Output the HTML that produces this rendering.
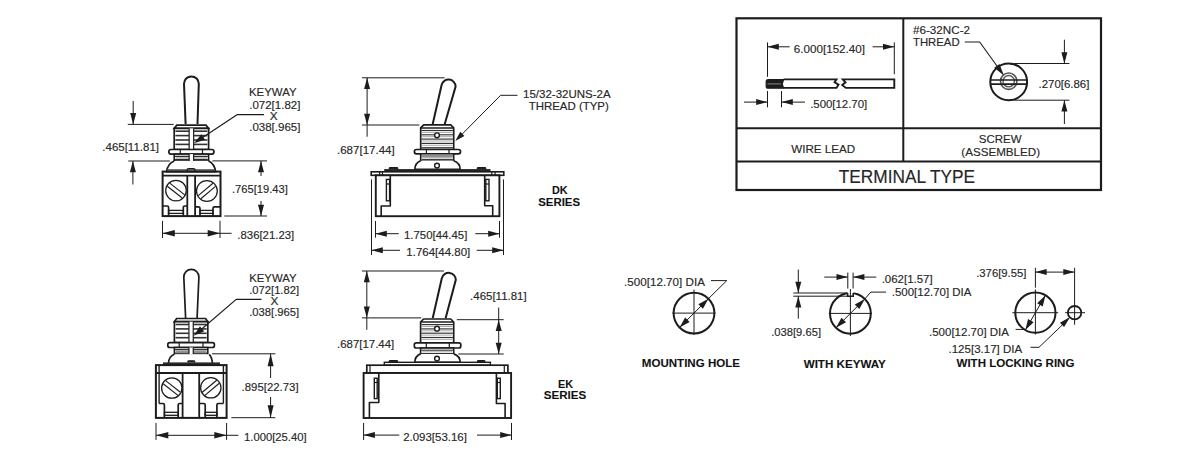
<!DOCTYPE html>
<html><head><meta charset="utf-8"><style>
html,body{margin:0;padding:0;background:#fff;width:1200px;height:463px;overflow:hidden}
svg{display:block}
text{font-family:"Liberation Sans",sans-serif;stroke:#2a2a2a;stroke-width:0.15px}
</style></head><body>
<svg width="1200" height="463" viewBox="0 0 1200 463">
<rect x="0" y="0" width="1200" height="463" fill="#fff"/>
<rect x="736.5" y="18.3" width="364.5" height="171.7" rx="0" fill="none" stroke="#1c1c1c" stroke-width="2.2"/>
<line x1="736.5" y1="128.2" x2="1101" y2="128.2" stroke="#1c1c1c" stroke-width="2"/>
<line x1="736.5" y1="161.5" x2="1101" y2="161.5" stroke="#1c1c1c" stroke-width="2"/>
<line x1="903.3" y1="18.3" x2="903.3" y2="161.5" stroke="#1c1c1c" stroke-width="2"/>
<line x1="767.5" y1="42.4" x2="767.5" y2="76.8" stroke="#1c1c1c" stroke-width="1.0"/>
<line x1="767.5" y1="91" x2="767.5" y2="107.3" stroke="#1c1c1c" stroke-width="1.0"/>
<line x1="894.3" y1="42.4" x2="894.3" y2="74.2" stroke="#1c1c1c" stroke-width="1.0"/>
<line x1="781.5" y1="91" x2="781.5" y2="107.3" stroke="#1c1c1c" stroke-width="1.0"/>
<line x1="767.5" y1="46.8" x2="789.7" y2="46.8" stroke="#1c1c1c" stroke-width="1.0"/>
<polygon points="767.50,46.80 778.80,43.80 778.80,49.80" fill="#1c1c1c"/>
<line x1="872.6" y1="46.8" x2="894.3" y2="46.8" stroke="#1c1c1c" stroke-width="1.0"/>
<polygon points="894.30,46.80 883.00,49.80 883.00,43.80" fill="#1c1c1c"/>
<text x="793.8" y="52.9" font-size="11.5" fill="#262626" textLength="71.2" lengthAdjust="spacingAndGlyphs">6.000[152.40]</text>
<path d="M783.6,79.6 L768.2,79.6 Q766.2,79.6 766.2,81.6 L766.2,86.2 Q766.2,88.2 768.2,88.2 L783.6,88.2 L782.2,84 Z" fill="#1c1c1c" stroke="#1c1c1c" stroke-width="1.2" />
<line x1="767.5" y1="83.9" x2="781" y2="83.9" stroke="#888" stroke-width="1.0"/>
<path d="M783.6,79.4 L836.5,79.4 L834.6,82.2 L838.5,84.6 L836.5,87.9 L783.6,87.9" fill="none" stroke="#1c1c1c" stroke-width="1.9" />
<path d="M845.8,79.4 L894.3,79.4 L894.3,87.9 L845.8,87.9 L842.2,85 L845.5,82.3 L842.8,79.4 Z" fill="none" stroke="#1c1c1c" stroke-width="1.9" />
<line x1="744" y1="102.1" x2="767.5" y2="102.1" stroke="#1c1c1c" stroke-width="1.0"/>
<polygon points="767.50,102.10 756.20,105.10 756.20,99.10" fill="#1c1c1c"/>
<line x1="781.5" y1="102.1" x2="805" y2="102.1" stroke="#1c1c1c" stroke-width="1.0"/>
<polygon points="781.50,102.10 792.80,99.10 792.80,105.10" fill="#1c1c1c"/>
<text x="810.2" y="107.7" font-size="11.5" fill="#262626" textLength="57" lengthAdjust="spacingAndGlyphs">.500[12.70]</text>
<text x="791.3" y="152.5" font-size="11.2" fill="#262626" textLength="63.9" lengthAdjust="spacingAndGlyphs">WIRE LEAD</text>
<text x="913" y="34.4" font-size="11.5" fill="#262626" textLength="57" lengthAdjust="spacingAndGlyphs">#6-32NC-2</text>
<text x="913" y="46.4" font-size="11.5" fill="#262626" textLength="46.6" lengthAdjust="spacingAndGlyphs">THREAD</text>
<polyline points="964.8,42 979.7,42 1002,73" fill="none" stroke="#1c1c1c" stroke-width="1.1" stroke-linejoin="round"/>
<circle cx="1008.7" cy="81.9" r="18.4" fill="none" stroke="#1c1c1c" stroke-width="2"/>
<circle cx="1008.7" cy="81.2" r="8.2" fill="none" stroke="#555" stroke-width="1.6"/>
<circle cx="1008.7" cy="81.2" r="5.7" fill="none" stroke="#555" stroke-width="1.4"/>
<line x1="990.6" y1="80.0" x2="1026.8" y2="80.0" stroke="#1c1c1c" stroke-width="1.7"/>
<line x1="990.6" y1="84.2" x2="1026.8" y2="84.2" stroke="#1c1c1c" stroke-width="1.7"/>
<polygon points="1003.90,75.50 994.28,67.65 999.47,63.90" fill="#1c1c1c"/>
<line x1="1014.3" y1="63.5" x2="1069.4" y2="63.5" stroke="#1c1c1c" stroke-width="1.0"/>
<line x1="1014.3" y1="100.2" x2="1069.4" y2="100.2" stroke="#1c1c1c" stroke-width="1.0"/>
<line x1="1064.4" y1="39.7" x2="1064.4" y2="63.5" stroke="#1c1c1c" stroke-width="1.0"/>
<polygon points="1064.40,63.50 1061.40,52.20 1067.40,52.20" fill="#1c1c1c"/>
<line x1="1064.4" y1="100.2" x2="1064.4" y2="124" stroke="#1c1c1c" stroke-width="1.0"/>
<polygon points="1064.40,100.20 1067.40,111.50 1061.40,111.50" fill="#1c1c1c"/>
<text x="1038.5" y="88.0" font-size="11.5" fill="#262626" textLength="50.8" lengthAdjust="spacingAndGlyphs">.270[6.86]</text>
<text x="978.8" y="143.4" font-size="11.2" fill="#262626" textLength="42.8" lengthAdjust="spacingAndGlyphs">SCREW</text>
<text x="961.3" y="155.7" font-size="11.2" fill="#262626" textLength="78.7" lengthAdjust="spacingAndGlyphs">(ASSEMBLED)</text>
<text x="838.7" y="182.7" font-size="17.9" fill="#262626" textLength="136.4" lengthAdjust="spacingAndGlyphs">TERMINAL TYPE</text>
<circle cx="694" cy="313.1" r="20.4" fill="none" stroke="#1c1c1c" stroke-width="2"/>
<line x1="694" y1="289.6" x2="694" y2="335" stroke="#1c1c1c" stroke-width="1.0"/>
<line x1="672.4" y1="313.1" x2="715.5" y2="313.1" stroke="#1c1c1c" stroke-width="1.0"/>
<line x1="708.42" y1="298.68" x2="679.58" y2="327.52" stroke="#1c1c1c" stroke-width="1.0"/>
<polygon points="708.42,298.68 702.91,308.72 698.38,304.19" fill="#1c1c1c"/>
<polygon points="679.58,327.52 685.09,317.48 689.62,322.01" fill="#1c1c1c"/>
<polyline points="708.4249783362055,298.67502166379444 726.8,280.6 711,280.6" fill="none" stroke="#1c1c1c" stroke-width="1.0" stroke-linejoin="round"/>
<text x="624.1" y="286.1" font-size="11.5" fill="#262626" textLength="80.8" lengthAdjust="spacingAndGlyphs">.500[12.70] DIA</text>
<text x="641.8" y="367.4" font-size="11.2" font-weight="bold" style="stroke-width:0.1px" fill="#111" textLength="98.2" lengthAdjust="spacingAndGlyphs">MOUNTING HOLE</text>
<circle cx="850.4" cy="313.4" r="20.4" fill="none" stroke="#1c1c1c" stroke-width="2"/>
<rect x="847.3" y="290" width="6.3" height="5" fill="#fff"/>
<path d="M847.6,293 L847.6,296.2 L853.2,296.2 L853.2,293" fill="none" stroke="#1c1c1c" stroke-width="1.6" />
<line x1="850.4" y1="289" x2="850.4" y2="336" stroke="#1c1c1c" stroke-width="1.0"/>
<line x1="828.9" y1="313.4" x2="872" y2="313.4" stroke="#1c1c1c" stroke-width="1.0"/>
<line x1="864.82" y1="298.98" x2="835.98" y2="327.82" stroke="#1c1c1c" stroke-width="1.0"/>
<polygon points="864.82,298.98 859.31,309.02 854.78,304.49" fill="#1c1c1c"/>
<polygon points="835.98,327.82 841.49,317.78 846.02,322.31" fill="#1c1c1c"/>
<polyline points="864.8249783362055,298.9750216637944 870.8,292.1 886,292.1" fill="none" stroke="#1c1c1c" stroke-width="1.0" stroke-linejoin="round"/>
<text x="891.8" y="296.4" font-size="11.5" fill="#262626" textLength="79.6" lengthAdjust="spacingAndGlyphs">.500[12.70] DIA</text>
<line x1="793.3" y1="293" x2="847.6" y2="293" stroke="#1c1c1c" stroke-width="1.0"/>
<line x1="793.3" y1="296.2" x2="847.6" y2="296.2" stroke="#1c1c1c" stroke-width="1.0"/>
<line x1="798.3" y1="269.5" x2="798.3" y2="293" stroke="#1c1c1c" stroke-width="1.0"/>
<polygon points="798.30,293.00 795.30,281.70 801.30,281.70" fill="#1c1c1c"/>
<line x1="798.3" y1="296.2" x2="798.3" y2="318.7" stroke="#1c1c1c" stroke-width="1.0"/>
<polygon points="798.30,296.20 801.30,307.50 795.30,307.50" fill="#1c1c1c"/>
<text x="771.2" y="335.7" font-size="11.5" fill="#262626" textLength="49.8" lengthAdjust="spacingAndGlyphs">.038[9.65]</text>
<line x1="847.8" y1="272.6" x2="847.8" y2="288.5" stroke="#1c1c1c" stroke-width="1.0"/>
<line x1="853.1" y1="272.6" x2="853.1" y2="288.5" stroke="#1c1c1c" stroke-width="1.0"/>
<line x1="824.3" y1="277.1" x2="847.8" y2="277.1" stroke="#1c1c1c" stroke-width="1.0"/>
<polygon points="847.80,277.10 836.50,280.10 836.50,274.10" fill="#1c1c1c"/>
<line x1="853.1" y1="277.1" x2="876.3" y2="277.1" stroke="#1c1c1c" stroke-width="1.0"/>
<polygon points="853.10,277.10 864.40,274.10 864.40,280.10" fill="#1c1c1c"/>
<text x="881.7" y="282.7" font-size="11.5" fill="#262626" textLength="50.9" lengthAdjust="spacingAndGlyphs">.062[1.57]</text>
<text x="803.7" y="367.5" font-size="11.2" font-weight="bold" style="stroke-width:0.1px" fill="#111" textLength="82.1" lengthAdjust="spacingAndGlyphs">WITH KEYWAY</text>
<circle cx="1035.4" cy="312.7" r="20.1" fill="none" stroke="#1c1c1c" stroke-width="2"/>
<line x1="1035.4" y1="289.4" x2="1035.4" y2="334.4" stroke="#1c1c1c" stroke-width="1.0"/>
<line x1="1012.4" y1="312.7" x2="1058.2" y2="312.7" stroke="#1c1c1c" stroke-width="1.0"/>
<line x1="1045.45" y1="295.29" x2="1025.35" y2="330.11" stroke="#1c1c1c" stroke-width="1.0"/>
<polygon points="1045.45,295.29 1042.72,306.42 1037.18,303.22" fill="#1c1c1c"/>
<polygon points="1025.35,330.11 1028.08,318.98 1033.62,322.18" fill="#1c1c1c"/>
<line x1="1035.4" y1="267.8" x2="1035.4" y2="287.7" stroke="#1c1c1c" stroke-width="1.0"/>
<circle cx="1074.6" cy="312.7" r="6.7" fill="none" stroke="#1c1c1c" stroke-width="1.8"/>
<line x1="1074.6" y1="267.8" x2="1074.6" y2="324.8" stroke="#1c1c1c" stroke-width="1.0"/>
<line x1="1065.1" y1="312.7" x2="1085" y2="312.7" stroke="#1c1c1c" stroke-width="1.0"/>
<line x1="1035.4" y1="272.1" x2="1074.6" y2="272.1" stroke="#1c1c1c" stroke-width="1.0"/>
<polygon points="1035.40,272.10 1046.70,269.10 1046.70,275.10" fill="#1c1c1c"/>
<polygon points="1074.60,272.10 1063.30,275.10 1063.30,269.10" fill="#1c1c1c"/>
<text x="976.2" y="276.9" font-size="11.5" fill="#262626" textLength="50.2" lengthAdjust="spacingAndGlyphs">.376[9.55]</text>
<polyline points="1015.6,329.4 1025.3500000000001,329.4" fill="none" stroke="#1c1c1c" stroke-width="1.0" stroke-linejoin="round"/>
<text x="929" y="335.7" font-size="11.5" fill="#262626" textLength="80" lengthAdjust="spacingAndGlyphs">.500[12.70] DIA</text>
<polyline points="1030.5,347.3 1039,347.3 1068.5,319" fill="none" stroke="#1c1c1c" stroke-width="1.0" stroke-linejoin="round"/>
<polygon points="1070.10,317.10 1064.08,327.12 1059.90,322.82" fill="#1c1c1c"/>
<text x="948.5" y="352.7" font-size="11.5" fill="#262626" textLength="73.7" lengthAdjust="spacingAndGlyphs">.125[3.17] DIA</text>
<text x="956.5" y="367.4" font-size="11.2" font-weight="bold" style="stroke-width:0.1px" fill="#111" textLength="117.9" lengthAdjust="spacingAndGlyphs">WITH LOCKING RING</text>
<path d="M185.6,124 L184,83.8 A7.4,7.4 0 0 1 198.8,83.8 L197.5,124" fill="#fff" stroke="#1c1c1c" stroke-width="2" />
<path d="M174.20000000000002,128.4 L176.8,125.2 L206.0,125.2 L208.6,128.4 Z" fill="#fff" stroke="#1c1c1c" stroke-width="1.7" />
<rect x="174.20000000000002" y="128.4" width="34.4" height="21.099999999999998" rx="0" fill="#fff" stroke="#1c1c1c" stroke-width="1.7"/>
<rect x="175.4" y="130.4" width="32.0" height="1.6" fill="#333"/>
<rect x="175.4" y="134.8" width="32.0" height="1.6" fill="#333"/>
<rect x="175.4" y="139.20000000000002" width="32.0" height="1.6" fill="#333"/>
<rect x="175.4" y="143.60000000000002" width="32.0" height="1.6" fill="#333"/>
<rect x="189.15" y="128.4" width="4.5" height="21.099999999999998" fill="#fff"/>
<line x1="189.15" y1="128.4" x2="189.15" y2="149.5" stroke="#1c1c1c" stroke-width="1.2"/>
<line x1="193.65" y1="128.4" x2="193.65" y2="149.5" stroke="#1c1c1c" stroke-width="1.2"/>
<rect x="168.9" y="149.5" width="45" height="4.6" rx="2" fill="#fff" stroke="#1c1c1c" stroke-width="1.7"/>
<line x1="180.3" y1="149.5" x2="180.3" y2="154.1" stroke="#1c1c1c" stroke-width="1.2"/>
<line x1="202.5" y1="149.5" x2="202.5" y2="154.1" stroke="#1c1c1c" stroke-width="1.2"/>
<rect x="174.20000000000002" y="154.1" width="34.4" height="6.900000000000006" rx="0" fill="#fff" stroke="#1c1c1c" stroke-width="1.6"/>
<line x1="175.00000000000003" y1="156.29999999999998" x2="207.79999999999998" y2="156.29999999999998" stroke="#2a2a2a" stroke-width="1.3"/>
<line x1="175.70000000000002" y1="157.99999999999997" x2="207.1" y2="157.99999999999997" stroke="#888" stroke-width="1.0"/>
<line x1="175.00000000000003" y1="159.7" x2="207.79999999999998" y2="159.7" stroke="#2a2a2a" stroke-width="1.3"/>
<line x1="175.70000000000002" y1="161.39999999999998" x2="207.1" y2="161.39999999999998" stroke="#888" stroke-width="1.0"/>
<rect x="189.15" y="154.1" width="4.5" height="6.900000000000006" fill="#fff"/>
<line x1="189.15" y1="154.1" x2="189.15" y2="161" stroke="#1c1c1c" stroke-width="1.2"/>
<line x1="193.65" y1="154.1" x2="193.65" y2="161" stroke="#1c1c1c" stroke-width="1.2"/>
<path d="M174.2,161 C169,163 167.2,167 166.6,171.6 L215.6,171.6 C215,167 213,163 208.6,161" fill="#fff" stroke="#1c1c1c" stroke-width="1.7" />
<rect x="167" y="169.2" width="48" height="1.6" fill="#555"/>
<path d="M187.2,171.5 L187.2,169.5 Q187.2,168.6 188.4,168.6 L193.8,168.6 Q195,168.6 195,169.5 L195,171.5" fill="none" stroke="#1c1c1c" stroke-width="1.2" />
<rect x="162.6" y="171.6" width="57.9" height="44.5" rx="0" fill="none" stroke="#1c1c1c" stroke-width="2"/>
<line x1="162.6" y1="175.6" x2="220.5" y2="175.6" stroke="#1c1c1c" stroke-width="1.8"/>
<line x1="187.3" y1="175.6" x2="187.3" y2="216" stroke="#1c1c1c" stroke-width="1.8"/>
<line x1="195.1" y1="175.6" x2="195.1" y2="216" stroke="#1c1c1c" stroke-width="1.8"/>
<circle cx="176" cy="190.6" r="10.3" fill="none" stroke="#1c1c1c" stroke-width="1.25"/>
<line x1="169.74" y1="183.17" x2="184.72" y2="194.88" stroke="#1c1c1c" stroke-width="1.15"/>
<line x1="167.28" y1="186.32" x2="182.26" y2="198.03" stroke="#1c1c1c" stroke-width="1.15"/>
<circle cx="206.9" cy="191" r="10.4" fill="none" stroke="#1c1c1c" stroke-width="1.25"/>
<line x1="198.26" y1="195.64" x2="212.97" y2="183.29" stroke="#1c1c1c" stroke-width="1.15"/>
<line x1="200.83" y1="198.71" x2="215.54" y2="186.36" stroke="#1c1c1c" stroke-width="1.15"/>
<path d="M162.6,206 L167.1,206 Q168.6,206 168.6,207.5 L168.6,216" fill="none" stroke="#1c1c1c" stroke-width="1.7" />
<path d="M187.3,206 L184.8,206 Q183.3,206 183.3,207.5 L183.3,216" fill="none" stroke="#1c1c1c" stroke-width="1.7" />
<rect x="168.6" y="210.4" width="14.700000000000017" height="3" rx="0" fill="none" stroke="#1c1c1c" stroke-width="1.3"/>
<path d="M195.1,206.9 L198.5,206.9 Q200,206.9 200,208.4 L200,216" fill="none" stroke="#1c1c1c" stroke-width="1.7" />
<path d="M220.5,206.9 L214.5,206.9 Q213,206.9 213,208.4 L213,216" fill="none" stroke="#1c1c1c" stroke-width="1.7" />
<rect x="200" y="210.4" width="13" height="3" rx="0" fill="none" stroke="#1c1c1c" stroke-width="1.3"/>
<line x1="127.8" y1="124.4" x2="173.6" y2="124.4" stroke="#1c1c1c" stroke-width="1.0"/>
<line x1="133.2" y1="101" x2="133.2" y2="124.4" stroke="#1c1c1c" stroke-width="1.0"/>
<polygon points="133.20,124.40 130.20,113.10 136.20,113.10" fill="#1c1c1c"/>
<line x1="128.3" y1="161" x2="169.9" y2="161" stroke="#1c1c1c" stroke-width="1.0"/>
<line x1="132.9" y1="161" x2="132.9" y2="184.5" stroke="#1c1c1c" stroke-width="1.0"/>
<polygon points="132.90,161.00 135.90,172.30 129.90,172.30" fill="#1c1c1c"/>
<text x="102.3" y="150.7" font-size="11.5" fill="#262626" textLength="56.7" lengthAdjust="spacingAndGlyphs">.465[11.81]</text>
<line x1="212.4" y1="160.9" x2="267" y2="160.9" stroke="#1c1c1c" stroke-width="1.0"/>
<line x1="224.3" y1="216" x2="267" y2="216" stroke="#1c1c1c" stroke-width="1.0"/>
<line x1="261" y1="160.9" x2="261" y2="176" stroke="#1c1c1c" stroke-width="1.0"/>
<polygon points="261.00,160.90 264.00,172.20 258.00,172.20" fill="#1c1c1c"/>
<line x1="261" y1="201" x2="261" y2="216" stroke="#1c1c1c" stroke-width="1.0"/>
<polygon points="261.00,216.00 258.00,204.70 264.00,204.70" fill="#1c1c1c"/>
<text x="232" y="193.0" font-size="11.5" fill="#262626" textLength="55.8" lengthAdjust="spacingAndGlyphs">.765[19.43]</text>
<line x1="162.5" y1="220.8" x2="162.5" y2="238" stroke="#1c1c1c" stroke-width="1.0"/>
<line x1="220" y1="220.8" x2="220" y2="238" stroke="#1c1c1c" stroke-width="1.0"/>
<line x1="162.5" y1="233.3" x2="231.6" y2="233.3" stroke="#1c1c1c" stroke-width="1.0"/>
<polygon points="162.50,233.30 174.80,230.10 174.80,236.50" fill="#1c1c1c"/>
<polygon points="220.00,233.30 207.70,236.50 207.70,230.10" fill="#1c1c1c"/>
<text x="237.3" y="238.5" font-size="11.5" fill="#262626" textLength="57" lengthAdjust="spacingAndGlyphs">.836[21.23]</text>
<text x="249" y="96.2" font-size="11.8" fill="#262626" textLength="47.5" lengthAdjust="spacingAndGlyphs">KEYWAY</text>
<text x="249.2" y="108.5" font-size="11.8" fill="#262626" textLength="51.2" lengthAdjust="spacingAndGlyphs">.072[1.82]</text>
<text x="273.8" y="120.2" font-size="11.8" fill="#262626" text-anchor="middle">X</text>
<text x="249.2" y="131.2" font-size="11.8" fill="#262626" textLength="51.2" lengthAdjust="spacingAndGlyphs">.038[.965]</text>
<polyline points="264,114.7 237,114.7 197,141.2" fill="none" stroke="#1c1c1c" stroke-width="1.2" stroke-linejoin="round"/>
<polygon points="194.00,143.20 201.35,134.37 204.99,139.87" fill="#1c1c1c"/>
<path d="M432.6,124.5 L441.6,85 A7.1,7.1 0 0 1 455.6,86.5 L444.6,124.5" fill="#fff" stroke="#1c1c1c" stroke-width="2" />
<path d="M420.7,149.5 L420.7,127.9 L423.7,124.9 L450.7,124.9 L453.7,127.9 L453.7,149.5 Z" fill="#fff" stroke="#1c1c1c" stroke-width="1.7" stroke-linejoin="round"/>
<line x1="420.7" y1="127.9" x2="453.7" y2="127.9" stroke="#1c1c1c" stroke-width="1.5"/>
<line x1="421.5" y1="130.5" x2="452.9" y2="130.5" stroke="#333" stroke-width="1.15"/>
<line x1="422.2" y1="132.4" x2="452.2" y2="132.4" stroke="#aaa" stroke-width="1.0"/>
<line x1="421.5" y1="134.8" x2="452.9" y2="134.8" stroke="#333" stroke-width="1.15"/>
<line x1="422.2" y1="136.70000000000002" x2="452.2" y2="136.70000000000002" stroke="#aaa" stroke-width="1.0"/>
<line x1="421.5" y1="139.10000000000002" x2="452.9" y2="139.10000000000002" stroke="#333" stroke-width="1.15"/>
<line x1="422.2" y1="141.00000000000003" x2="452.2" y2="141.00000000000003" stroke="#aaa" stroke-width="1.0"/>
<line x1="421.5" y1="143.40000000000003" x2="452.9" y2="143.40000000000003" stroke="#333" stroke-width="1.15"/>
<line x1="422.2" y1="145.30000000000004" x2="452.2" y2="145.30000000000004" stroke="#aaa" stroke-width="1.0"/>
<line x1="421.5" y1="147.70000000000005" x2="452.9" y2="147.70000000000005" stroke="#333" stroke-width="1.15"/>
<line x1="422.2" y1="149.60000000000005" x2="452.2" y2="149.60000000000005" stroke="#aaa" stroke-width="1.0"/>
<circle cx="437" cy="135.3" r="2.4" fill="#fff" stroke="#1c1c1c" stroke-width="1.4"/>
<rect x="414.4" y="149.5" width="46.10000000000002" height="4.3" rx="2" fill="#fff" stroke="#1c1c1c" stroke-width="1.7"/>
<line x1="426.4" y1="149.5" x2="426.4" y2="153.8" stroke="#1c1c1c" stroke-width="1.2"/>
<line x1="449.0" y1="149.5" x2="449.0" y2="153.8" stroke="#1c1c1c" stroke-width="1.2"/>
<rect x="420.7" y="153.8" width="33.0" height="7.0" rx="0" fill="#fff" stroke="#1c1c1c" stroke-width="1.6"/>
<line x1="421.5" y1="156.0" x2="452.9" y2="156.0" stroke="#333" stroke-width="1.1"/>
<line x1="422.2" y1="157.6" x2="452.2" y2="157.6" stroke="#aaa" stroke-width="1.0"/>
<line x1="421.5" y1="159.4" x2="452.9" y2="159.4" stroke="#333" stroke-width="1.1"/>
<line x1="422.2" y1="161.0" x2="452.2" y2="161.0" stroke="#aaa" stroke-width="1.0"/>
<path d="M420.7,160.8 C416.9,162.3 414.9,164.3 414.9,169.3 L460.1,169.3 C460.1,164.3 458.1,162.3 453.7,160.8" fill="#fff" stroke="#1c1c1c" stroke-width="1.7" />
<circle cx="437" cy="165.6" r="2.4" fill="#fff" stroke="#1c1c1c" stroke-width="1.4"/>
<rect x="384.2" y="169.1" width="106.3" height="3.0" fill="#222"/>
<path d="M389.3,169.3 L389.3,168.2 Q389.3,167.5 390.3,167.5 L396.7,167.5 Q397.7,167.5 397.7,168.2 L397.7,169.3" fill="#222" stroke="#1c1c1c" stroke-width="1.2" />
<path d="M477.3,169.3 L477.3,168.2 Q477.3,167.5 478.3,167.5 L484.7,167.5 Q485.7,167.5 485.7,168.2 L485.7,169.3" fill="#222" stroke="#1c1c1c" stroke-width="1.2" />
<rect x="371.2" y="171.8" width="132.6" height="3.5" rx="0" fill="#fff" stroke="#1c1c1c" stroke-width="1.6"/>
<line x1="379.6" y1="171.8" x2="379.6" y2="175.3" stroke="#1c1c1c" stroke-width="1.2"/>
<line x1="382.5" y1="171.8" x2="382.5" y2="175.3" stroke="#1c1c1c" stroke-width="1.2"/>
<line x1="491.8" y1="171.8" x2="491.8" y2="175.3" stroke="#1c1c1c" stroke-width="1.2"/>
<line x1="495.1" y1="171.8" x2="495.1" y2="175.3" stroke="#1c1c1c" stroke-width="1.2"/>
<rect x="375.8" y="175.3" width="123.6" height="40.9" rx="0" fill="#fff" stroke="#1c1c1c" stroke-width="1.9"/>
<polyline points="390.3,175.3 390.3,206 381.2,206 381.2,216.2" fill="none" stroke="#1c1c1c" stroke-width="1.6" stroke-linejoin="round"/>
<polyline points="484.7,175.3 484.7,205.8 492.7,205.8 492.7,216.2" fill="none" stroke="#1c1c1c" stroke-width="1.6" stroke-linejoin="round"/>
<rect x="386.4" y="179.4" width="3.2" height="21.4" rx="0" fill="none" stroke="#1c1c1c" stroke-width="1.4"/>
<line x1="386.4" y1="184" x2="389.6" y2="184" stroke="#1c1c1c" stroke-width="1.2"/>
<rect x="485.8" y="179.4" width="3.2" height="21.4" rx="0" fill="none" stroke="#1c1c1c" stroke-width="1.4"/>
<line x1="485.8" y1="184" x2="489" y2="184" stroke="#1c1c1c" stroke-width="1.2"/>
<line x1="362" y1="77.8" x2="444.6" y2="77.8" stroke="#1c1c1c" stroke-width="1.0"/>
<line x1="362" y1="125" x2="419.4" y2="125" stroke="#1c1c1c" stroke-width="1.0"/>
<line x1="367.1" y1="77.8" x2="367.1" y2="136.7" stroke="#1c1c1c" stroke-width="1.0"/>
<polygon points="367.10,77.80 370.10,89.10 364.10,89.10" fill="#1c1c1c"/>
<polygon points="367.10,125.00 364.10,113.70 370.10,113.70" fill="#1c1c1c"/>
<text x="337" y="153.7" font-size="11.5" fill="#262626" textLength="57.7" lengthAdjust="spacingAndGlyphs">.687[17.44]</text>
<line x1="375.5" y1="221" x2="375.5" y2="237.7" stroke="#1c1c1c" stroke-width="1.0"/>
<line x1="499.5" y1="221" x2="499.5" y2="237.7" stroke="#1c1c1c" stroke-width="1.0"/>
<line x1="375.5" y1="233.7" x2="398.7" y2="233.7" stroke="#1c1c1c" stroke-width="1.0"/>
<polygon points="375.50,233.70 386.80,230.70 386.80,236.70" fill="#1c1c1c"/>
<line x1="475.3" y1="233.7" x2="499.5" y2="233.7" stroke="#1c1c1c" stroke-width="1.0"/>
<polygon points="499.50,233.70 488.20,236.70 488.20,230.70" fill="#1c1c1c"/>
<text x="404" y="238.7" font-size="11.5" fill="#262626" textLength="63.3" lengthAdjust="spacingAndGlyphs">1.750[44.45]</text>
<line x1="371.5" y1="179.4" x2="371.5" y2="255" stroke="#1c1c1c" stroke-width="1.0"/>
<line x1="503.5" y1="179.4" x2="503.5" y2="255" stroke="#1c1c1c" stroke-width="1.0"/>
<line x1="371.5" y1="250.3" x2="400" y2="250.3" stroke="#1c1c1c" stroke-width="1.0"/>
<polygon points="371.50,250.30 382.80,247.30 382.80,253.30" fill="#1c1c1c"/>
<line x1="476.7" y1="250.3" x2="503.5" y2="250.3" stroke="#1c1c1c" stroke-width="1.0"/>
<polygon points="503.50,250.30 492.20,253.30 492.20,247.30" fill="#1c1c1c"/>
<text x="406.3" y="255.5" font-size="11.5" fill="#262626" textLength="64" lengthAdjust="spacingAndGlyphs">1.764[44.80]</text>
<polyline points="517.5,95.3 500.6,95.3 457.5,138.8" fill="none" stroke="#1c1c1c" stroke-width="1.0" stroke-linejoin="round"/>
<polygon points="455.30,141.00 460.28,131.86 464.40,135.94" fill="#1c1c1c"/>
<text x="523.1" y="98.4" font-size="11" fill="#262626" textLength="87.5" lengthAdjust="spacingAndGlyphs">15/32-32UNS-2A</text>
<text x="528.75" y="110.2" font-size="11" fill="#262626" textLength="80" lengthAdjust="spacingAndGlyphs">THREAD (TYP)</text>
<text x="552" y="193.6" font-size="11.8" font-weight="bold" style="stroke-width:0.1px" fill="#111" textLength="15.6" lengthAdjust="spacingAndGlyphs">DK</text>
<text x="538.2" y="205.7" font-size="11.8" font-weight="bold" style="stroke-width:0.1px" fill="#111" textLength="41.9" lengthAdjust="spacingAndGlyphs">SERIES</text>
<path d="M185.6,318 L183.8,276.9 A7.55,7.55 0 0 1 198.9,276.9 L197.1,318" fill="#fff" stroke="#1c1c1c" stroke-width="1.7" />
<path d="M174.4,321.7 L176.6,318.5 L205.6,318.5 L207.79999999999998,321.7 Z" fill="#fff" stroke="#1c1c1c" stroke-width="1.7" />
<rect x="174.4" y="321.7" width="33.4" height="20.900000000000023" rx="0" fill="#fff" stroke="#1c1c1c" stroke-width="1.7"/>
<rect x="175.6" y="323.7" width="31.0" height="1.6" fill="#333"/>
<rect x="175.6" y="328.09999999999997" width="31.0" height="1.6" fill="#333"/>
<rect x="175.6" y="332.49999999999994" width="31.0" height="1.6" fill="#333"/>
<rect x="175.6" y="336.8999999999999" width="31.0" height="1.6" fill="#333"/>
<rect x="188.95" y="321.7" width="4.3" height="20.900000000000023" fill="#fff"/>
<line x1="188.95" y1="321.7" x2="188.95" y2="342.6" stroke="#1c1c1c" stroke-width="1.2"/>
<line x1="193.25" y1="321.7" x2="193.25" y2="342.6" stroke="#1c1c1c" stroke-width="1.2"/>
<rect x="167.79999999999998" y="342.6" width="46.6" height="4.9" rx="2" fill="#fff" stroke="#1c1c1c" stroke-width="1.7"/>
<line x1="179.2" y1="342.6" x2="179.2" y2="347.5" stroke="#1c1c1c" stroke-width="1.2"/>
<line x1="203.0" y1="342.6" x2="203.0" y2="347.5" stroke="#1c1c1c" stroke-width="1.2"/>
<rect x="174.4" y="347.5" width="33.4" height="6.800000000000011" rx="0" fill="#fff" stroke="#1c1c1c" stroke-width="1.6"/>
<line x1="175.20000000000002" y1="349.7" x2="206.99999999999997" y2="349.7" stroke="#2a2a2a" stroke-width="1.3"/>
<line x1="175.9" y1="351.4" x2="206.29999999999998" y2="351.4" stroke="#888" stroke-width="1.0"/>
<line x1="175.20000000000002" y1="353.09999999999997" x2="206.99999999999997" y2="353.09999999999997" stroke="#2a2a2a" stroke-width="1.3"/>
<line x1="175.9" y1="354.79999999999995" x2="206.29999999999998" y2="354.79999999999995" stroke="#888" stroke-width="1.0"/>
<rect x="188.95" y="347.5" width="4.3" height="6.800000000000011" fill="#fff"/>
<line x1="188.95" y1="347.5" x2="188.95" y2="354.3" stroke="#1c1c1c" stroke-width="1.2"/>
<line x1="193.25" y1="347.5" x2="193.25" y2="354.3" stroke="#1c1c1c" stroke-width="1.2"/>
<path d="M174.4,354.3 C169.5,356 168.6,360 168.4,363.8 L212.4,363.8 C212.2,360 211,356 209.2,354.3" fill="#fff" stroke="#1c1c1c" stroke-width="1.7" />
<rect x="163" y="362.4" width="57" height="2.4" fill="#2a2a2a"/>
<path d="M187.9,362.5 L187.9,361.6 Q187.9,360.8 188.9,360.8 L193.8,360.8 Q194.7,360.8 194.7,361.6 L194.7,362.5" fill="#2a2a2a" stroke="#1c1c1c" stroke-width="1.2" />
<rect x="155.9" y="365.1" width="70.7" height="52.8" rx="0" fill="none" stroke="#1c1c1c" stroke-width="2"/>
<line x1="155.9" y1="373" x2="226.6" y2="373" stroke="#1c1c1c" stroke-width="1.8"/>
<line x1="159.1" y1="365.1" x2="159.1" y2="403.5" stroke="#1c1c1c" stroke-width="1.4"/>
<line x1="223.4" y1="365.1" x2="223.4" y2="403.5" stroke="#1c1c1c" stroke-width="1.4"/>
<line x1="182.6" y1="373" x2="182.6" y2="417.9" stroke="#1c1c1c" stroke-width="1.8"/>
<line x1="199.2" y1="373" x2="199.2" y2="417.9" stroke="#1c1c1c" stroke-width="1.8"/>
<circle cx="171.8" cy="388" r="10.2" fill="none" stroke="#1c1c1c" stroke-width="1.25"/>
<line x1="165.62" y1="380.64" x2="180.44" y2="392.21" stroke="#1c1c1c" stroke-width="1.15"/>
<line x1="163.16" y1="383.79" x2="177.98" y2="395.36" stroke="#1c1c1c" stroke-width="1.15"/>
<circle cx="210.8" cy="387.8" r="10.2" fill="none" stroke="#1c1c1c" stroke-width="1.25"/>
<line x1="202.31" y1="392.31" x2="216.72" y2="380.22" stroke="#1c1c1c" stroke-width="1.15"/>
<line x1="204.88" y1="395.38" x2="219.29" y2="383.29" stroke="#1c1c1c" stroke-width="1.15"/>
<path d="M159.1,403.5 L162.9,403.5 Q164.4,403.5 164.4,405.0 L164.4,417.9" fill="none" stroke="#1c1c1c" stroke-width="1.7" />
<path d="M182.6,403.5 L179.7,403.5 Q178.2,403.5 178.2,405.0 L178.2,417.9" fill="none" stroke="#1c1c1c" stroke-width="1.7" />
<rect x="164.4" y="412.29999999999995" width="13.799999999999983" height="3" rx="0" fill="none" stroke="#1c1c1c" stroke-width="1.3"/>
<path d="M199.2,403.5 L203.7,403.5 Q205.2,403.5 205.2,405.0 L205.2,417.9" fill="none" stroke="#1c1c1c" stroke-width="1.7" />
<path d="M223.4,403.5 L218.4,403.5 Q216.9,403.5 216.9,405.0 L216.9,417.9" fill="none" stroke="#1c1c1c" stroke-width="1.7" />
<rect x="205.2" y="412.29999999999995" width="11.700000000000017" height="3" rx="0" fill="none" stroke="#1c1c1c" stroke-width="1.3"/>
<line x1="212" y1="353.8" x2="275.3" y2="353.8" stroke="#1c1c1c" stroke-width="1.0"/>
<line x1="231.4" y1="417.7" x2="275.3" y2="417.7" stroke="#1c1c1c" stroke-width="1.0"/>
<line x1="270.6" y1="353.8" x2="270.6" y2="378" stroke="#1c1c1c" stroke-width="1.0"/>
<polygon points="270.60,353.80 273.60,366.30 267.60,366.30" fill="#1c1c1c"/>
<line x1="270.6" y1="397" x2="270.6" y2="417.7" stroke="#1c1c1c" stroke-width="1.0"/>
<polygon points="270.60,417.70 267.60,405.20 273.60,405.20" fill="#1c1c1c"/>
<text x="241.6" y="390.7" font-size="11.5" fill="#262626" textLength="57" lengthAdjust="spacingAndGlyphs">.895[22.73]</text>
<line x1="156" y1="423" x2="156" y2="439.9" stroke="#1c1c1c" stroke-width="1.0"/>
<line x1="226.6" y1="423" x2="226.6" y2="439.9" stroke="#1c1c1c" stroke-width="1.0"/>
<line x1="156" y1="435.3" x2="238.3" y2="435.3" stroke="#1c1c1c" stroke-width="1.0"/>
<polygon points="156.00,435.30 168.30,432.10 168.30,438.50" fill="#1c1c1c"/>
<polygon points="226.60,435.30 214.30,438.50 214.30,432.10" fill="#1c1c1c"/>
<text x="244" y="440.7" font-size="11.5" fill="#262626" textLength="62.6" lengthAdjust="spacingAndGlyphs">1.000[25.40]</text>
<text x="249.2" y="281.9" font-size="11.8" fill="#262626" textLength="47.3" lengthAdjust="spacingAndGlyphs">KEYWAY</text>
<text x="249.2" y="293.5" font-size="11.8" fill="#262626" textLength="49.9" lengthAdjust="spacingAndGlyphs">.072[1.82]</text>
<text x="274.5" y="305.2" font-size="11.8" fill="#262626" text-anchor="middle">X</text>
<text x="249.2" y="316.2" font-size="11.8" fill="#262626" textLength="49.9" lengthAdjust="spacingAndGlyphs">.038[.965]</text>
<polyline points="261.5,299.4 236.2,299.4 196.5,333.5" fill="none" stroke="#1c1c1c" stroke-width="1.2" stroke-linejoin="round"/>
<polygon points="193.70,335.80 199.91,326.14 204.20,331.15" fill="#1c1c1c"/>
<path d="M432.7,318.2 L441.8,278.3 A7.1,7.1 0 0 1 455.8,279.8 L445.6,318.2" fill="#fff" stroke="#1c1c1c" stroke-width="2" />
<path d="M420.6,342.8 L420.6,322 L423.6,319 L450.7,319 L453.7,322 L453.7,342.8 Z" fill="#fff" stroke="#1c1c1c" stroke-width="1.7" stroke-linejoin="round"/>
<line x1="420.6" y1="322" x2="453.7" y2="322" stroke="#1c1c1c" stroke-width="1.5"/>
<line x1="421.40000000000003" y1="324.6" x2="452.9" y2="324.6" stroke="#333" stroke-width="1.15"/>
<line x1="422.1" y1="326.5" x2="452.2" y2="326.5" stroke="#aaa" stroke-width="1.0"/>
<line x1="421.40000000000003" y1="328.90000000000003" x2="452.9" y2="328.90000000000003" stroke="#333" stroke-width="1.15"/>
<line x1="422.1" y1="330.8" x2="452.2" y2="330.8" stroke="#aaa" stroke-width="1.0"/>
<line x1="421.40000000000003" y1="333.20000000000005" x2="452.9" y2="333.20000000000005" stroke="#333" stroke-width="1.15"/>
<line x1="422.1" y1="335.1" x2="452.2" y2="335.1" stroke="#aaa" stroke-width="1.0"/>
<line x1="421.40000000000003" y1="337.50000000000006" x2="452.9" y2="337.50000000000006" stroke="#333" stroke-width="1.15"/>
<line x1="422.1" y1="339.40000000000003" x2="452.2" y2="339.40000000000003" stroke="#aaa" stroke-width="1.0"/>
<circle cx="437" cy="328.7" r="2.4" fill="#fff" stroke="#1c1c1c" stroke-width="1.4"/>
<rect x="414.3" y="342.8" width="46.5" height="5.2" rx="2" fill="#fff" stroke="#1c1c1c" stroke-width="1.7"/>
<line x1="426.3" y1="342.8" x2="426.3" y2="348.0" stroke="#1c1c1c" stroke-width="1.2"/>
<line x1="449.3" y1="342.8" x2="449.3" y2="348.0" stroke="#1c1c1c" stroke-width="1.2"/>
<rect x="420.6" y="348.0" width="33.099999999999966" height="5.899999999999977" rx="0" fill="#fff" stroke="#1c1c1c" stroke-width="1.6"/>
<line x1="421.40000000000003" y1="350.2" x2="452.9" y2="350.2" stroke="#333" stroke-width="1.1"/>
<line x1="422.1" y1="351.8" x2="452.2" y2="351.8" stroke="#aaa" stroke-width="1.0"/>
<path d="M420.6,353.9 C416.8,355.4 414.8,357.4 414.8,362.4 L460.2,362.4 C460.2,357.4 458.2,355.4 453.7,353.9" fill="#fff" stroke="#1c1c1c" stroke-width="1.7" />
<circle cx="437" cy="358.6" r="2.4" fill="#fff" stroke="#1c1c1c" stroke-width="1.4"/>
<rect x="384.3" y="362.3" width="106.1" height="2.9" rx="0" fill="#fff" stroke="#1c1c1c" stroke-width="1.4"/>
<path d="M389.2,362.3 L389.2,361.4 Q389.2,360.7 390.2,360.7 L396.6,360.7 Q397.6,360.7 397.6,361.4 L397.6,362.3" fill="#222" stroke="#1c1c1c" stroke-width="1.2" />
<path d="M477.4,362.3 L477.4,361.4 Q477.4,360.7 478.4,360.7 L483.9,360.7 Q484.9,360.7 484.9,361.4 L484.9,362.3" fill="#222" stroke="#1c1c1c" stroke-width="1.2" />
<rect x="366.8" y="365.2" width="141.1" height="7.8" rx="0" fill="#fff" stroke="#1c1c1c" stroke-width="1.7"/>
<line x1="370" y1="365.2" x2="370" y2="373" stroke="#1c1c1c" stroke-width="1.2"/>
<line x1="504.3" y1="365.2" x2="504.3" y2="373" stroke="#1c1c1c" stroke-width="1.2"/>
<rect x="363.6" y="373" width="147.5" height="45" rx="0" fill="#fff" stroke="#1c1c1c" stroke-width="1.9"/>
<polyline points="378.8,372.6 378.8,402.5 369.4,402.5 369.4,418" fill="none" stroke="#1c1c1c" stroke-width="1.6" stroke-linejoin="round"/>
<polyline points="496.4,372.6 496.4,403.5 505.1,403.5 505.1,418" fill="none" stroke="#1c1c1c" stroke-width="1.6" stroke-linejoin="round"/>
<rect x="374.3" y="378.2" width="2.9" height="20.4" rx="0" fill="none" stroke="#1c1c1c" stroke-width="1.4"/>
<line x1="374.3" y1="382.5" x2="377.2" y2="382.5" stroke="#1c1c1c" stroke-width="1.2"/>
<rect x="497.3" y="378.2" width="3" height="20.4" rx="0" fill="none" stroke="#1c1c1c" stroke-width="1.4"/>
<line x1="497.3" y1="382.5" x2="500.3" y2="382.5" stroke="#1c1c1c" stroke-width="1.2"/>
<line x1="361.9" y1="271" x2="444" y2="271" stroke="#1c1c1c" stroke-width="1.0"/>
<line x1="361.9" y1="317.9" x2="421.3" y2="317.9" stroke="#1c1c1c" stroke-width="1.0"/>
<line x1="366.8" y1="271" x2="366.8" y2="329.8" stroke="#1c1c1c" stroke-width="1.0"/>
<polygon points="366.80,271.00 369.80,282.30 363.80,282.30" fill="#1c1c1c"/>
<polygon points="366.80,317.90 363.80,306.60 369.80,306.60" fill="#1c1c1c"/>
<text x="337" y="347.8" font-size="11.5" fill="#262626" textLength="57.2" lengthAdjust="spacingAndGlyphs">.687[17.44]</text>
<line x1="456.8" y1="319.7" x2="503.7" y2="319.7" stroke="#1c1c1c" stroke-width="1.0"/>
<line x1="458.3" y1="354" x2="503.7" y2="354" stroke="#1c1c1c" stroke-width="1.0"/>
<line x1="498.7" y1="307.6" x2="498.7" y2="354" stroke="#1c1c1c" stroke-width="1.0"/>
<polygon points="498.70,319.70 501.70,331.00 495.70,331.00" fill="#1c1c1c"/>
<polygon points="498.70,354.00 495.70,342.70 501.70,342.70" fill="#1c1c1c"/>
<text x="470.1" y="300.3" font-size="11.5" fill="#262626" textLength="56.6" lengthAdjust="spacingAndGlyphs">.465[11.81]</text>
<line x1="363.6" y1="422.9" x2="363.6" y2="440" stroke="#1c1c1c" stroke-width="1.0"/>
<line x1="511.5" y1="422.9" x2="511.5" y2="440" stroke="#1c1c1c" stroke-width="1.0"/>
<line x1="363.6" y1="435.1" x2="399.3" y2="435.1" stroke="#1c1c1c" stroke-width="1.0"/>
<polygon points="363.60,435.10 374.90,432.10 374.90,438.10" fill="#1c1c1c"/>
<line x1="477" y1="435.1" x2="511.5" y2="435.1" stroke="#1c1c1c" stroke-width="1.0"/>
<polygon points="511.50,435.10 500.20,438.10 500.20,432.10" fill="#1c1c1c"/>
<text x="403.2" y="440.7" font-size="11.5" fill="#262626" textLength="63.7" lengthAdjust="spacingAndGlyphs">2.093[53.16]</text>
<text x="558.1" y="387.6" font-size="11.8" font-weight="bold" style="stroke-width:0.1px" fill="#111" textLength="15.1" lengthAdjust="spacingAndGlyphs">EK</text>
<text x="543.8" y="398.7" font-size="11.8" font-weight="bold" style="stroke-width:0.1px" fill="#111" textLength="42.4" lengthAdjust="spacingAndGlyphs">SERIES</text>
</svg>
</body></html>
